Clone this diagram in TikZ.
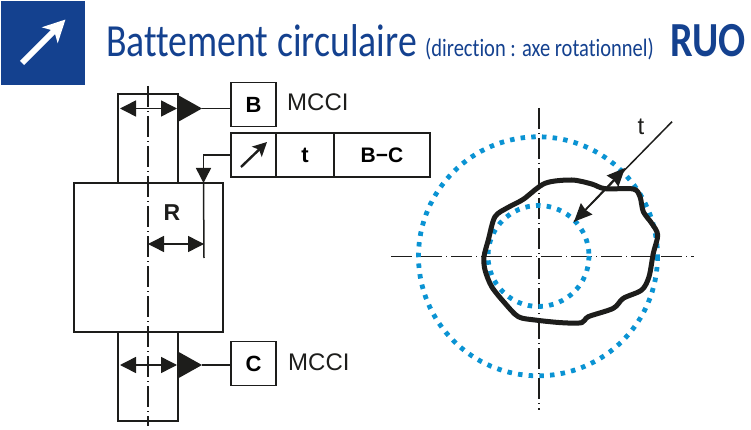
\documentclass[tikz,border=0pt]{standalone}
\usepackage{fontspec}
\setmainfont{Liberation Sans}
\newfontfamily\titlefont[FakeStretch=.82,Ligatures=NoCommon]{Carlito}
\usetikzlibrary{calc}
\usetikzlibrary{arrows.meta}
\definecolor{rublue}{HTML}{14418F}
\definecolor{dotblue}{HTML}{0A93D3}
\definecolor{inkblack}{HTML}{1D1D1B}
\tikzset{
 cell/.style={draw=inkblack, line width=1.6, minimum height=44, inner sep=0, outer sep=0, font=\bfseries\fontsize{22}{22}\selectfont},
 axisline/.style={inkblack, line width=1.9, dash pattern=on 21 off 4 on 1 off 4},
 dottedcircle/.style={dotblue, line width=4.8, dash pattern=on 4.5 off 6.2},
 dim/.style={inkblack, line width=1.5, {Triangle[length=16pt,width=16pt]}-{Triangle[length=16pt,width=16pt]}},
 part/.style={inkblack, line width=1.7},
 note/.style={inner sep=0, text=inkblack, font=\fontsize{24}{24}\selectfont}
}
\begin{document}
\begin{tikzpicture}[x=1pt,y=-1pt]
\useasboundingbox (0,0) rectangle (751,430);
% header
\fill[rublue] (1,1) rectangle (85,85);
\draw[white, line width=6, -{Stealth[length=22pt,width=22pt,inset=6pt]}] (22,63)--(65.5,19.5);
\node[anchor=base west, inner sep=0, text=rublue] (title) at (106,57) {\titlefont\fontsize{46}{46}\selectfont Battement circulaire};
\node[anchor=base west, inner sep=0, text=rublue] (subtitle) at (425,57) {\titlefont\fontsize{25}{25}\selectfont (direction : axe rotationnel)};
\node[anchor=base east, inner sep=0, text=rublue] (code) at (746,57) {\titlefont\bfseries\fontsize{49}{49}\selectfont RUO};
% part
\draw[part] (118,94) rectangle (178,183);
\draw[part] (74,183) rectangle (223,332);
\draw[part] (118,332) rectangle (178,421);
\draw[axisline] (148,86)--(148,426);
% datums and frame
\node[cell, minimum width=45] (boxB) at (253.5,104.5) {B};
\node[cell, minimum width=45] (boxC) at (253.5,363.5) {C};
\node[cell, minimum width=45] (sym) at (253.5,155) {};
\node[cell, minimum width=58, anchor=west] (tol) at (sym.east) {t};
\node[cell, minimum width=96, anchor=west] (ref) at (tol.east) {\fontsize{21}{21}\selectfont B−C};
\node[note, anchor=west] (mccB) at (287,102) {MCCI};
\node[note, anchor=west] (mccC) at (288,362) {MCCI};
\draw[inkblack, line width=2.4, -{Stealth[length=14pt,width=14pt,inset=3pt]}] (241,167)--(267,142);
\foreach \n/\y/\b in {top/108.5/boxB, bot/365/boxC} {
 \coordinate (tip\n) at (202,\y);
 \fill[inkblack] (177,\y-14)--(tip\n)--(177,\y+14)--cycle;
 \draw[inkblack, line width=1.5] (tip\n)--(\b.west|-tip\n);
 \draw[dim] (120,\y)--(177,\y);
}
% leader and radius
\coordinate (lead) at (203.5,183);
\draw[inkblack, line width=1.5, -{Triangle[length=15pt,width=15pt]}] (sym.west)-|(lead);
\coordinate (radend) at (204,258);
\draw[inkblack, line width=1.5] (lead)--(radend);
\draw[dim] (148,244)--(204,244);
\node[inner sep=0, text=inkblack, font=\bfseries\fontsize{23}{23}\selectfont] (radlabel) at (172,213) {R};
% right view
\draw[axisline] (391,256.5)--(694,256.5);
\draw[axisline] (539,108)--(539,410);
\draw[dottedcircle] (538,256.3) circle (119.5);
\draw[dottedcircle] (538.5,256) circle (50.5);
\draw[inkblack, line width=5, line join=round] plot[smooth cycle, tension=.5] coordinates {
 (484,256.7) (488.3,240) (495,216.7) (508.3,207.3) (523.3,199.3) (545,183.3) (571.7,180)
 (591.7,184) (605,188.7) (633.3,189) (640,196.7) (643.3,211.7) (651.7,223.3) (657.7,235)
 (653.3,253.3) (649,276.7) (641.7,290) (623.3,298.3) (613.3,308.3) (588.3,316.7) (581.7,322.7)
 (561.7,322.7) (535,320) (518.3,316.7) (505,303.3) (491.7,286.7) (485,270)};
\coordinate (tfar) at (672,121.7);
\coordinate (touter) at (625,168);
\coordinate (tinner) at (574,221.7);
\draw[inkblack, line width=1.5, -{Stealth[length=18pt,width=16pt,inset=1.5pt]}] (tfar)--(tinner);
\draw[inkblack, line width=1.5, -{Stealth[length=18pt,width=16pt,inset=1.5pt]}] (tinner)--(touter);
\node[note] (tlabel) at (641,127) {t};
\end{tikzpicture}
\end{document}
